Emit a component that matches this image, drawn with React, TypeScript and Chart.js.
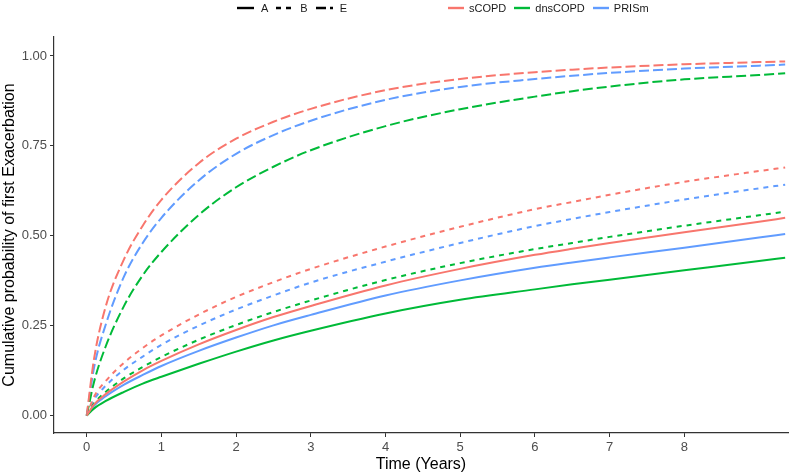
import { useEffect, useRef } from "react";
import { Chart, registerables } from "chart.js";

Chart.register(...registerables);

const FONT = "'Liberation Sans', Arial, Helvetica, sans-serif";

const timePoints = [0, 0.1, 0.25, 0.5, 0.75, 1, 1.5, 2, 2.5, 3, 4, 5, 6, 6.5, 7, 8, 9, 9.35];

const sCOPD_A = [0, 0.031, 0.059, 0.095, 0.126, 0.152, 0.198, 0.238, 0.274, 0.305, 0.362, 0.408, 0.447, 0.464, 0.48, 0.51, 0.539, 0.55];
const dnsCOPD_A = [0, 0.02, 0.04, 0.066, 0.089, 0.108, 0.144, 0.178, 0.209, 0.236, 0.284, 0.322, 0.351, 0.365, 0.378, 0.404, 0.43, 0.439];
const PRISm_A = [0, 0.028, 0.053, 0.086, 0.113, 0.138, 0.18, 0.217, 0.251, 0.28, 0.334, 0.376, 0.411, 0.426, 0.44, 0.467, 0.495, 0.505];

const sCOPD_B = [0, 0.053, 0.095, 0.147, 0.188, 0.223, 0.281, 0.33, 0.371, 0.408, 0.47, 0.525, 0.574, 0.594, 0.614, 0.65, 0.68, 0.69];
const dnsCOPD_B = [0, 0.034, 0.065, 0.104, 0.135, 0.163, 0.211, 0.252, 0.288, 0.32, 0.377, 0.424, 0.463, 0.48, 0.497, 0.528, 0.557, 0.567];
const PRISm_B = [0, 0.045, 0.082, 0.128, 0.164, 0.197, 0.25, 0.295, 0.334, 0.37, 0.428, 0.48, 0.527, 0.547, 0.566, 0.601, 0.632, 0.642];

const sCOPD_E = [0, 0.16, 0.3, 0.435, 0.528, 0.6, 0.702, 0.77, 0.817, 0.853, 0.905, 0.936, 0.955, 0.962, 0.968, 0.977, 0.983, 0.985];
const dnsCOPD_E = [0, 0.095, 0.19, 0.305, 0.39, 0.455, 0.558, 0.635, 0.692, 0.738, 0.805, 0.852, 0.887, 0.902, 0.915, 0.935, 0.947, 0.952];
const PRISm_E = [0, 0.135, 0.25, 0.387, 0.48, 0.55, 0.654, 0.728, 0.78, 0.82, 0.878, 0.914, 0.936, 0.945, 0.953, 0.965, 0.973, 0.976];

const xTicks = [0, 1, 2, 3, 4, 5, 6, 7, 8];
const yTicks = [0, 0.25, 0.5, 0.75, 1];

const groups = ["sCOPD", "dnsCOPD", "PRISm"];
const classes = ["A", "B", "E"];

const groupColors: Record<string, string> = {
  sCOPD: "#F8766D",
  dnsCOPD: "#00BA38",
  PRISm: "#619CFF",
};

const classDash: Record<string, number[]> = {
  A: [],
  B: [5, 5],
  E: [10, 4],
};

const series = [
  { group: "sCOPD", cls: "A", values: sCOPD_A },
  { group: "dnsCOPD", cls: "A", values: dnsCOPD_A },
  { group: "PRISm", cls: "A", values: PRISm_A },
  { group: "sCOPD", cls: "B", values: sCOPD_B },
  { group: "dnsCOPD", cls: "B", values: dnsCOPD_B },
  { group: "PRISm", cls: "B", values: PRISm_B },
  { group: "sCOPD", cls: "E", values: sCOPD_E },
  { group: "dnsCOPD", cls: "E", values: dnsCOPD_E },
  { group: "PRISm", cls: "E", values: PRISm_E },
];

function LegendKey({ color, dash, width }: { color: string; dash: number[]; width: number }) {
  return (
    <svg width={width} height={6} style={{ display: "block" }}>
      <line
        x1={0}
        y1={3}
        x2={width}
        y2={3}
        stroke={color}
        strokeWidth={2.4}
        strokeDasharray={dash.length ? dash.join(" ") : undefined}
      />
    </svg>
  );
}

const legendText: React.CSSProperties = {
  fontFamily: FONT,
  fontSize: 11,
  color: "#1a1a1a",
  lineHeight: "14px",
};

export default function App() {
  const canvasRef = useRef<HTMLCanvasElement>(null);

  useEffect(() => {
    if (!canvasRef.current) return;
    const chart = new Chart(canvasRef.current, {
      type: "line",
      data: {
        datasets: series.map((s) => ({
          label: `${s.group} ${s.cls}`,
          data: timePoints.map((t, i) => ({ x: t, y: s.values[i] })),
          borderColor: groupColors[s.group],
          borderWidth: 2,
          borderDash: classDash[s.cls],
          pointRadius: 0,
          fill: false,
          cubicInterpolationMode: "monotone" as const,
        })),
      },
      options: {
        animation: false,
        responsive: false,
        layout: { padding: { top: 37, right: 2, left: 0, bottom: 0 } },
        plugins: {
          legend: { display: false },
          tooltip: { enabled: false },
        },
        scales: {
          x: {
            type: "linear",
            min: -0.4377,
            max: 9.388,
            afterBuildTicks: (scale) => {
              scale.ticks = xTicks.map((v) => ({ value: v }));
            },
            afterFit: (scale) => {
              scale.height = 41;
            },
            ticks: {
              autoSkip: false,
              maxRotation: 0,
              padding: 3,
              color: "#4d4d4d",
              font: { family: FONT, size: 13 },
              callback: (v) => String(v),
            },
            grid: {
              display: true,
              drawOnChartArea: false,
              drawTicks: true,
              tickLength: 4,
              color: "#333",
              lineWidth: 1,
            },
            border: { display: true, color: "#333", width: 1.2 },
            title: {
              display: true,
              text: "Time (Years)",
              color: "#000",
              font: { family: FONT, size: 16 },
              padding: 0,
            },
          },
          y: {
            type: "linear",
            min: -0.0484,
            max: 1.0528,
            afterBuildTicks: (scale) => {
              scale.ticks = yTicks.map((v) => ({ value: v }));
            },
            afterFit: (scale) => {
              scale.width = 54;
            },
            ticks: {
              padding: 3,
              color: "#4d4d4d",
              font: { family: FONT, size: 13 },
              callback: (v) => Number(v).toFixed(2),
            },
            grid: {
              display: true,
              drawOnChartArea: false,
              drawTicks: true,
              tickLength: 4,
              color: "#333",
              lineWidth: 1,
            },
            border: { display: true, color: "#333", width: 1.2 },
            title: {
              display: true,
              text: "Cumulative probability of first Exacerbation",
              color: "#000",
              font: { family: FONT, size: 16 },
              padding: 0,
            },
          },
        },
      },
    });
    return () => chart.destroy();
  }, []);

  return (
    <div
      style={{
        position: "absolute",
        left: 0,
        top: 0,
        width: 790,
        height: 474,
        background: "#fff",
      }}
    >
      <canvas ref={canvasRef} width={790} height={474} style={{ display: "block" }} />
      <div
        style={{
          position: "absolute",
          left: 237,
          top: 0,
          height: 15,
          display: "flex",
          alignItems: "center",
        }}
      >
        {classes.map((c) => (
          <div key={c} style={{ display: "flex", alignItems: "center", marginRight: 8 }}>
            <LegendKey color="#000" dash={classDash[c]} width={17} />
            <span style={{ ...legendText, marginLeft: 7 }}>{c}</span>
          </div>
        ))}
      </div>
      <div
        style={{
          position: "absolute",
          left: 448,
          top: 0,
          height: 15,
          display: "flex",
          alignItems: "center",
        }}
      >
        {groups.map((g) => (
          <div key={g} style={{ display: "flex", alignItems: "center", marginRight: 8 }}>
            <LegendKey color={groupColors[g]} dash={[]} width={16} />
            <span style={{ ...legendText, marginLeft: 5 }}>{g}</span>
          </div>
        ))}
      </div>
    </div>
  );
}
